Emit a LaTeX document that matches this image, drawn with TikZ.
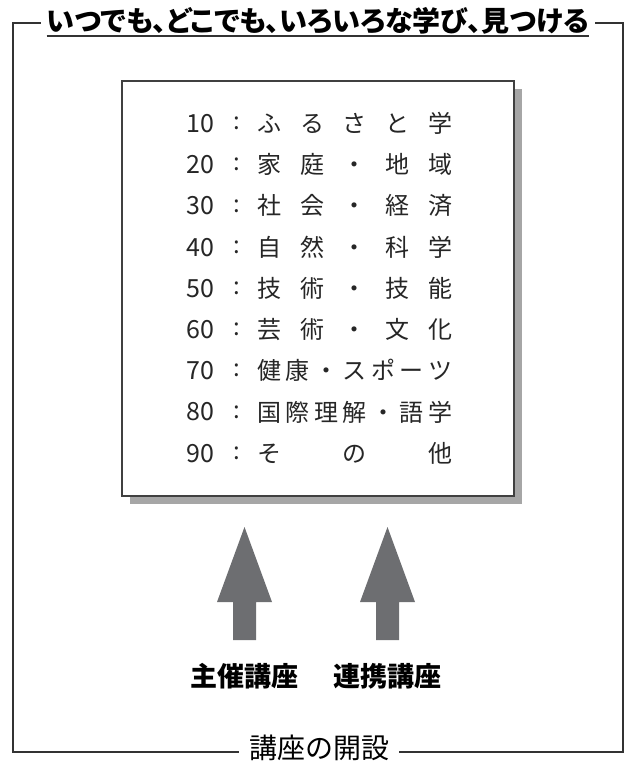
\documentclass[tikz,border=0pt]{standalone}
\usepackage{fontspec}
\setmainfont{Noto Sans CJK JP}
\newfontfamily\titlefont{Noto Sans CJK JP}[RawFeature=+palt]
\usepackage{xcolor}
\usetikzlibrary{shadows}
\definecolor{arrowgray}{HTML}{6D6E71}
\definecolor{shadegray}{HTML}{A6A6A6}

\tikzset{
  frame/.style={line width=1pt, black!80},
  titletext/.style={inner xsep=3pt, inner ysep=0pt, font=\titlefont\bfseries\fontsize{14pt}{16pt}\selectfont},
  foottext/.style={inner xsep=5pt, inner ysep=0pt, font=\fontsize{14pt}{16pt}\selectfont},
  listbox/.style={draw=black!75, line width=0.6pt, fill=white, minimum width=196pt, minimum height=207.5pt,
    drop shadow={shadow xshift=4pt, shadow yshift=-4pt, opacity=1, fill=shadegray}},
  rowtext/.style={inner sep=0pt, text=black!85, font=\fontsize{12pt}{14pt}\selectfont},
  numtext/.style={rowtext, font=\fontsize{12.5pt}{14pt}\selectfont},
  armtext/.style={inner sep=0pt, font=\bfseries\fontsize{13.5pt}{16pt}\selectfont},
  bigarrow/.style={fill=arrowgray}
}

\begin{document}
\begin{tikzpicture}[x=0.5pt, y=-0.5pt]
  \useasboundingbox (0,0) rectangle (627,764);
  % outer frame with the two captions
  \coordinate (tl) at (13,23);
  \coordinate (br) at (623,752);
  \node[titletext] (title) at (318,21) {いつでも、どこでも、いろいろな学び、見つける};
  \node[foottext] (foot) at (319,748) {講座の開設};
  \draw[frame] (title.west |- tl) -- (tl) -- (tl |- br) -- (foot.west |- br);
  \draw[frame] (foot.east |- br) -- (br) -- (br |- tl) -- (title.east |- tl);
  \coordinate (ul) at (0,36);
  \draw[black!80, line width=0.6pt] ([xshift=3pt]title.west |- ul) -- ([xshift=-3pt]title.east |- ul);

  % list of fields
  \node[listbox] (list) at (318,288.5) {};
  \foreach \num/\txt [count=\i from 0] in {
      10/{ふ\hfill る\hfill さ\hfill と\hfill 学},
      20/{家\hfill 庭\hfill ・\hfill 地\hfill 域},
      30/{社\hfill 会\hfill ・\hfill 経\hfill 済},
      40/{自\hfill 然\hfill ・\hfill 科\hfill 学},
      50/{技\hfill 術\hfill ・\hfill 技\hfill 能},
      60/{芸\hfill 術\hfill ・\hfill 文\hfill 化},
      70/{健\hfill 康\hfill ・\hfill ス\hfill ポ\hfill ー\hfill ツ},
      80/{国\hfill 際\hfill 理\hfill 解\hfill ・\hfill 語\hfill 学},
      90/{そ\hfill の\hfill 他}} {
    \node[numtext, anchor=east] (n\num) at (215,{123.5+41.2*\i}) {\num};
    \node[rowtext] (c\num) at (237,{123.5+41.2*\i}) {:};
    \node[rowtext, anchor=west] (r\num) at (257,{123.5+41.2*\i}) {\makebox[97.5pt]{\txt}};
  }

  % the two kinds of courses
  \foreach \x/\name/\lbl in {244.5/host/主催講座, 387.5/partner/連携講座} {
    \node[armtext] (\name) at (\x,676) {\lbl};
    \fill[bigarrow] (\x,527) -- (\x+27.5,602) -- (\x+11.5,602) -- (\x+11.5,640)
      -- (\x-11.5,640) -- (\x-11.5,602) -- (\x-27.5,602) -- cycle;
  }
\end{tikzpicture}
\end{document}
